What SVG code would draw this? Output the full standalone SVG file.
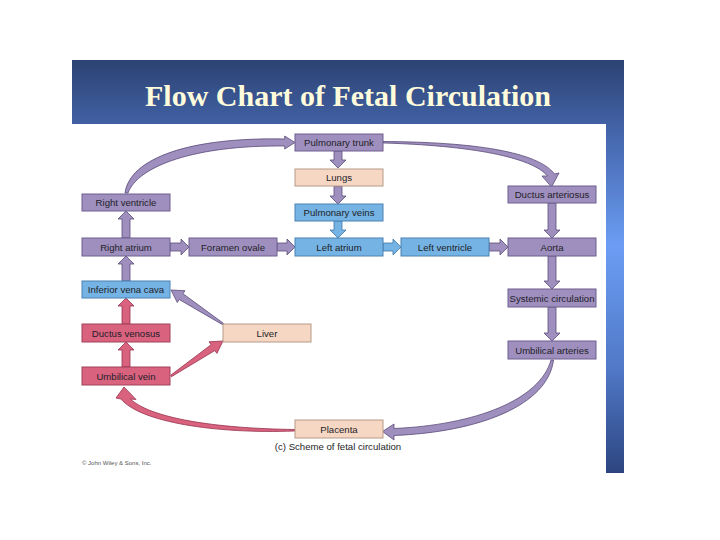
<svg xmlns="http://www.w3.org/2000/svg" width="720" height="540" viewBox="0 0 720 540">
  <defs>
    <linearGradient id="bg" x1="0" y1="60" x2="0" y2="473" gradientUnits="userSpaceOnUse">
      <stop offset="0" stop-color="#2c4272"/>
      <stop offset="0.16" stop-color="#4262a6"/>
      <stop offset="0.45" stop-color="#6b9df4"/>
      <stop offset="0.75" stop-color="#5078c6"/>
      <stop offset="1" stop-color="#2c4580"/>
    </linearGradient>
    <style>
      .pu{fill:#9e8fbe;stroke:#6d5e8e;stroke-width:1}
      .bl{fill:#74b3e3;stroke:#4a82b4;stroke-width:1}
      .pe{fill:#f5d7c4;stroke:#b79a88;stroke-width:1}
      .pk{fill:#d9627f;stroke:#a2405a;stroke-width:1}
      .t{font-family:"Liberation Sans",Arial,sans-serif;font-size:9.6px;fill:#1e1e28;text-anchor:middle}
      .ap{fill:#9e8fbe;stroke:#5a4b78;stroke-width:0.8;stroke-linejoin:miter}
      .ab{fill:#74b3e3;stroke:#3f76a8;stroke-width:0.8}
      .ak{fill:#d9627f;stroke:#96344e;stroke-width:0.8}
    </style>
  </defs>
  <rect x="0" y="0" width="720" height="540" fill="#ffffff"/>
  <rect x="72" y="60" width="552" height="413" fill="url(#bg)"/>
  <rect x="72" y="124" width="534" height="349" fill="#ffffff"/>
  <text x="348" y="106" font-family="'Liberation Serif','Times New Roman',serif" font-weight="bold" font-size="30" fill="#fffcdc" text-anchor="middle">Flow Chart of Fetal Circulation</text>

  <g id="connectors">
    <path class="ap" d="M334,151 H342 V160 H346 L338,168 L330,160 H334 Z"/>
    <path class="ap" d="M334,186 H342 V196 H346 L338,204 L330,196 H334 Z"/>
    <path class="ab" d="M334,221 H342 V230 H346 L338,238 L330,230 H334 Z"/>
    <path class="ap" d="M548,203 H556 V230 H560 L552,238 L544,230 H548 Z"/>
    <path class="ap" d="M548,256 H556 V281 H560 L552,289 L544,281 H548 Z"/>
    <path class="ap" d="M548,307 H556 V333 H560 L552,341 L544,333 H548 Z"/>
    <path class="ap" d="M122,238 H130 V219 H134 L126,211 L118,219 H122 Z"/>
    <path class="ap" d="M122,281 H130 V264 H134 L126,256 L118,264 H122 Z"/>
    <path class="ak" d="M122,324 H130 V306 H134 L126,298 L118,306 H122 Z"/>
    <path class="ak" d="M122,367 H130 V350 H134 L126,342 L118,350 H122 Z"/>
    <path class="ap" d="M170,243 V251 H181 V255 L189,247 L181,239 V243 Z"/>
    <path class="ap" d="M277,243 V251 H287 V255 L295,247 L287,239 V243 Z"/>
    <path class="ab" d="M383,243 V251 H393 V255 L401,247 L393,239 V243 Z"/>
    <path class="ap" d="M489,243 V251 H500 V255 L508,247 L500,239 V243 Z"/>
    <path class="ap" d="M223.4,323.3 L183,293.7 L184.9,290.7 L171,290 L177.3,302.5 L179.2,299.5 L222.6,324.7 Z"/>
    <path class="ak" d="M170.6,375.3 L211.1,344.7 L209.1,341.8 L223,341 L216.9,353.4 L214.9,350.5 L171.4,376.7 Z"/>
    <path class="ap" d="M125,193 C130,158 190,137 284.7,139 L284.7,136 L295,142.5 L284.7,149 L284.7,146 C195,145 138,166 128,193 Z"/>
    <path class="ap" d="M383,141.5 C475,142 538,152 554.5,174 L559,173 L551.5,187 L542,176 L547.5,176 C532,157 470,145.5 383,143 Z"/>
    <path class="ap" d="M553.5,360 C548,405 480,432 394,435.5 L394,440 L382.5,431.5 L394,424 L394,428.5 C475,425 540,400 551,360 Z"/>
    <path class="ak" d="M295,431 C215,434 140,422 121,399 L116,398 L124,387 L136,399.5 L130.5,399 C150,418 215,428.5 295,429.5 Z"/>
  </g>

  <g id="pulmonary-trunk"><rect class="pu" x="295" y="134" width="88" height="17"/><text class="t" x="339" y="146">Pulmonary trunk</text></g>
  <g id="lungs"><rect class="pe" x="295" y="169" width="88" height="17"/><text class="t" x="339" y="181">Lungs</text></g>
  <g id="pulmonary-veins"><rect class="bl" x="295" y="204" width="88" height="17"/><text class="t" x="339" y="216">Pulmonary veins</text></g>
  <g id="left-atrium"><rect class="bl" x="295" y="238" width="88" height="18"/><text class="t" x="339" y="250.5">Left atrium</text></g>
  <g id="left-ventricle"><rect class="bl" x="401" y="238" width="88" height="18"/><text class="t" x="445" y="250.5">Left ventricle</text></g>
  <g id="foramen-ovale"><rect class="pu" x="189" y="238" width="88" height="18"/><text class="t" x="233" y="250.5">Foramen ovale</text></g>
  <g id="right-atrium"><rect class="pu" x="82" y="238" width="88" height="18"/><text class="t" x="126" y="250.5">Right atrium</text></g>
  <g id="right-ventricle"><rect class="pu" x="82" y="194" width="88" height="17"/><text class="t" x="126" y="206">Right ventricle</text></g>
  <g id="ductus-arteriosus"><rect class="pu" x="508" y="186" width="88" height="17"/><text class="t" x="552" y="198">Ductus arteriosus</text></g>
  <g id="aorta"><rect class="pu" x="508" y="238" width="88" height="18"/><text class="t" x="552" y="250.5">Aorta</text></g>
  <g id="systemic-circulation"><rect class="pu" x="508" y="289" width="88" height="18"/><text class="t" x="552" y="301.5" textLength="85" lengthAdjust="spacingAndGlyphs">Systemic circulation</text></g>
  <g id="umbilical-arteries"><rect class="pu" x="508" y="341" width="88" height="18"/><text class="t" x="552" y="353.5">Umbilical arteries</text></g>
  <g id="inferior-vena-cava"><rect class="bl" x="82" y="281" width="88" height="17"/><text class="t" x="126" y="293">Inferior vena cava</text></g>
  <g id="ductus-venosus"><rect class="pk" x="82" y="324" width="88" height="18"/><text class="t" x="126" y="336.5">Ductus venosus</text></g>
  <g id="umbilical-vein"><rect class="pk" x="82" y="367" width="88" height="18"/><text class="t" x="126" y="379.5">Umbilical vein</text></g>
  <g id="liver"><rect class="pe" x="223" y="324" width="88" height="18"/><text class="t" x="267" y="336.5">Liver</text></g>
  <g id="placenta"><rect class="pe" x="295" y="420" width="88" height="18"/><text class="t" x="339" y="432.5">Placenta</text></g>

  <text class="t" x="338" y="450">(c) Scheme of fetal circulation</text>
  <text x="82" y="464.5" font-family="'Liberation Sans',Arial,sans-serif" font-size="6" fill="#555">© John Wiley &amp; Sons, Inc.</text>
</svg>
